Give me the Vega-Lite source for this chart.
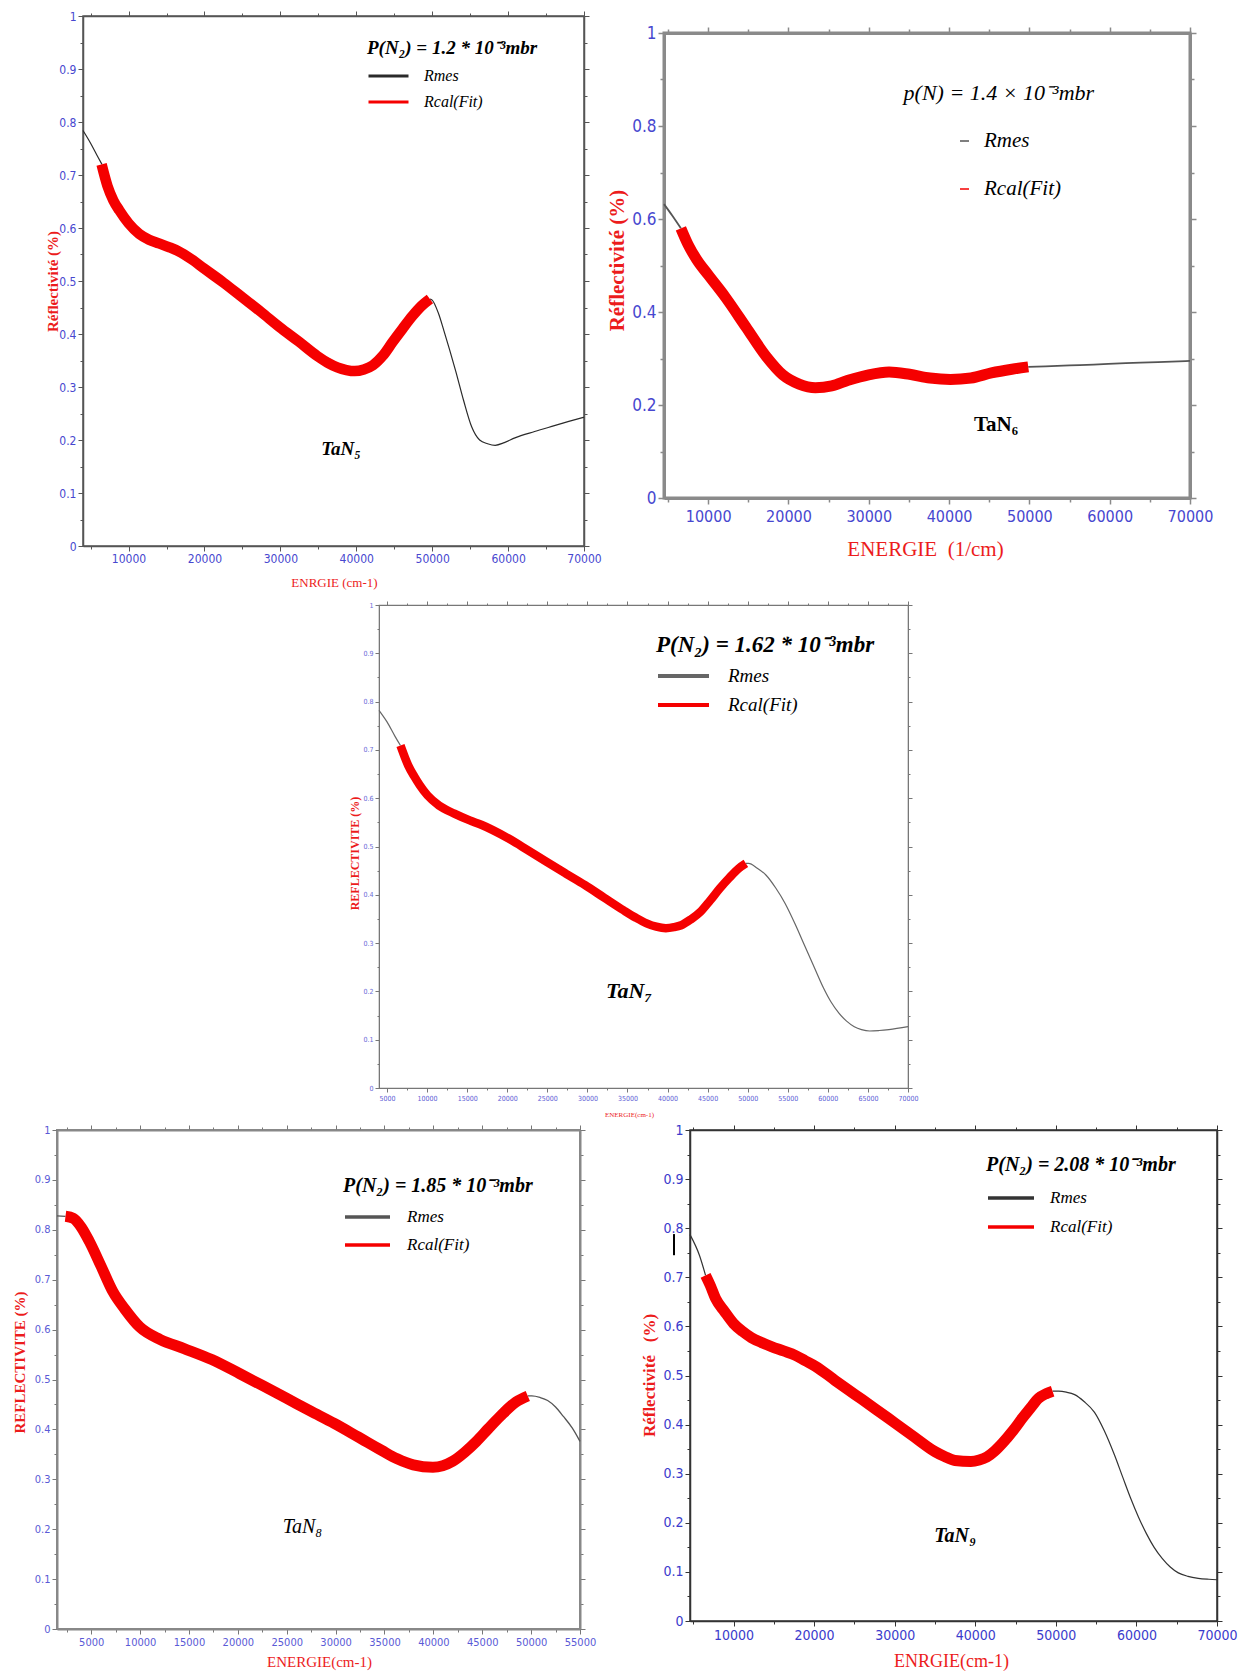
{
  "$schema": "https://vega.github.io/schema/vega-lite/v6.json",
  "background": "white",
  "padding": {"left": 11, "top": 9, "right": 0, "bottom": 0},
  "config": {
    "view": {"stroke": null},
    "axis": {
      "grid": false,
      "labelFont": "'Liberation Sans Narrow', 'Arial Narrow', 'DejaVu Sans Condensed', 'Liberation Sans', sans-serif",
      "labelColor": "#4747cf",
      "tickColor": "#555555",
      "domainColor": "#555555",
      "labelOverlap": false,
      "labelFlush": false,
      "titleColor": "#ec1c1c",
      "titleFont": "Liberation Serif",
      "titleAlign": "center",
      "titleBaseline": "middle",
      "labelPadding": 2,
      "tickWidth": 1
    },
    "legend": {
      "padding": 0,
      "orient": "none",
      "titleColor": "black",
      "labelColor": "black",
      "titleFont": "Liberation Serif",
      "labelFont": "Liberation Serif",
      "labelFontStyle": "italic",
      "titleFontStyle": "italic",
      "titleLimit": 600,
      "labelLimit": 400,
      "symbolType": "stroke",
      "titleAnchor": "start"
    },
    "text": {"font": "Liberation Serif", "color": "black"},
    "line": {"interpolate": "monotone"}
  },
  "bounds": "flush",
  "spacing": 557,
  "resolve": {"scale": {"color": "independent"}, "legend": {"color": "independent"}},
  "vconcat": [
    {
      "bounds": "flush",
      "spacing": 25,
      "resolve": {"scale": {"color": "independent"}, "legend": {"color": "independent"}},
      "hconcat": [
        {"width": 1, "height": 1, "view": {"stroke": null}, "data": {"values": []}, "mark": "point"},
        {
          "bounds": "flush",
          "spacing": 80,
          "resolve": {"scale": {"color": "independent"}, "legend": {"color": "independent"}},
          "hconcat": [
            {
              "width": 501,
              "height": 530,
              "view": {"stroke": "#555555", "strokeWidth": 1.5},
              "resolve": {"axis": {"x": "independent", "y": "independent"}},
              "layer": [
                {
                  "data": {"values": [
                    {"E": 4000, "R": 0.784, "series": "Rmes", "seg": "a"},
                    {"E": 5000, "R": 0.76, "series": "Rmes", "seg": "a"},
                    {"E": 6000, "R": 0.733, "series": "Rmes", "seg": "a"},
                    {"E": 6500, "R": 0.72, "series": "Rmes", "seg": "a"},
                    {"E": 49700, "R": 0.466, "series": "Rmes", "seg": "b"},
                    {"E": 50000, "R": 0.464, "series": "Rmes", "seg": "b"},
                    {"E": 50800, "R": 0.44, "series": "Rmes", "seg": "b"},
                    {"E": 51550, "R": 0.406, "series": "Rmes", "seg": "b"},
                    {"E": 52300, "R": 0.37, "series": "Rmes", "seg": "b"},
                    {"E": 53100, "R": 0.33, "series": "Rmes", "seg": "b"},
                    {"E": 54150, "R": 0.274, "series": "Rmes", "seg": "b"},
                    {"E": 55200, "R": 0.225, "series": "Rmes", "seg": "b"},
                    {"E": 56250, "R": 0.2, "series": "Rmes", "seg": "b"},
                    {"E": 57300, "R": 0.193, "series": "Rmes", "seg": "b"},
                    {"E": 58300, "R": 0.19, "series": "Rmes", "seg": "b"},
                    {"E": 59500, "R": 0.195, "series": "Rmes", "seg": "b"},
                    {"E": 60900, "R": 0.204, "series": "Rmes", "seg": "b"},
                    {"E": 63500, "R": 0.216, "series": "Rmes", "seg": "b"},
                    {"E": 66100, "R": 0.227, "series": "Rmes", "seg": "b"},
                    {"E": 68000, "R": 0.235, "series": "Rmes", "seg": "b"},
                    {"E": 70000, "R": 0.243, "series": "Rmes", "seg": "b"}
                  ]},
                  "mark": {"type": "line", "strokeWidth": 1.2},
                  "encoding": {
                    "x": {"field": "E", "type": "quantitative", "scale": {"domain": [4000, 70000], "nice": false, "zero": false},
                      "axis": {"orient": "bottom", "values": [5000,10000,15000,20000,25000,30000,35000,40000,45000,50000,55000,60000,65000,70000], "format": "d",
                        "labelExpr": "round(datum.value/5000) % 2 == 0 ? datum.label : ''",
                        "tickSize": {"condition": {"test": "round(datum.value/5000) % 2 == 0", "value": 5}, "value": 3},
                        "labelFontSize": 12, "domainWidth": 1.5,
                        "title": "ENRGIE (cm-1)", "titleX": 251, "titleY": 36, "titleFontSize": 13, "titleFontWeight": "normal", "titleAngle": 0}},
                    "y": {"field": "R", "type": "quantitative", "scale": {"domain": [0, 1], "nice": false},
                      "axis": {"orient": "left", "values": [0,0.05,0.1,0.15,0.2,0.25,0.3,0.35,0.4,0.45,0.5,0.55,0.6,0.65,0.7,0.75,0.8,0.85,0.9,0.95,1], "format": "~g",
                        "labelExpr": "round(datum.value*20) % 2 == 0 ? datum.label : ''",
                        "tickSize": {"condition": {"test": "round(datum.value*20) % 2 == 0", "value": 5}, "value": 3},
                        "labelFontSize": 12, "domainWidth": 1.5,
                        "title": "Réflectivité (%)", "titleX": -31, "titleY": 265, "titleFontSize": 15, "titleFontWeight": "bold", "titleAngle": 270}},
                    "color": {"field": "series", "type": "nominal",
                      "scale": {"domain": ["Rmes", "Rcal(Fit)"], "range": ["#2a2a2a", "#f50000"]},
                      "legend": {"title": "P(N₂) = 1.2 * 10⁻³mbr", "orient": "none", "legendX": 284, "legendY": 23,
                        "titleFontSize": 19, "titleFontWeight": "bold", "titlePadding": 9,
                        "symbolSize": 1600, "symbolStrokeWidth": 3, "labelFontSize": 16, "labelOffset": 14,
                        "clipHeight": 18, "rowPadding": 8}},
                    "detail": {"field": "seg", "type": "nominal"}
                  }
                },
                {
                  "data": {"values": [
                    {"E": 6450, "R": 0.72, "series": "Rcal(Fit)"},
                    {"E": 7230, "R": 0.679, "series": "Rcal(Fit)"},
                    {"E": 8000, "R": 0.652, "series": "Rcal(Fit)"},
                    {"E": 8800, "R": 0.633, "series": "Rcal(Fit)"},
                    {"E": 10000, "R": 0.609, "series": "Rcal(Fit)"},
                    {"E": 11400, "R": 0.589, "series": "Rcal(Fit)"},
                    {"E": 12700, "R": 0.578, "series": "Rcal(Fit)"},
                    {"E": 14000, "R": 0.571, "series": "Rcal(Fit)"},
                    {"E": 15300, "R": 0.564, "series": "Rcal(Fit)"},
                    {"E": 16600, "R": 0.556, "series": "Rcal(Fit)"},
                    {"E": 18300, "R": 0.541, "series": "Rcal(Fit)"},
                    {"E": 20000, "R": 0.523, "series": "Rcal(Fit)"},
                    {"E": 22500, "R": 0.497, "series": "Rcal(Fit)"},
                    {"E": 25000, "R": 0.469, "series": "Rcal(Fit)"},
                    {"E": 27500, "R": 0.441, "series": "Rcal(Fit)"},
                    {"E": 29900, "R": 0.413, "series": "Rcal(Fit)"},
                    {"E": 32400, "R": 0.386, "series": "Rcal(Fit)"},
                    {"E": 34900, "R": 0.358, "series": "Rcal(Fit)"},
                    {"E": 36200, "R": 0.346, "series": "Rcal(Fit)"},
                    {"E": 37500, "R": 0.337, "series": "Rcal(Fit)"},
                    {"E": 38700, "R": 0.332, "series": "Rcal(Fit)"},
                    {"E": 39800, "R": 0.33, "series": "Rcal(Fit)"},
                    {"E": 41000, "R": 0.333, "series": "Rcal(Fit)"},
                    {"E": 42200, "R": 0.341, "series": "Rcal(Fit)"},
                    {"E": 43500, "R": 0.359, "series": "Rcal(Fit)"},
                    {"E": 44800, "R": 0.385, "series": "Rcal(Fit)"},
                    {"E": 46100, "R": 0.41, "series": "Rcal(Fit)"},
                    {"E": 47400, "R": 0.434, "series": "Rcal(Fit)"},
                    {"E": 48600, "R": 0.453, "series": "Rcal(Fit)"},
                    {"E": 49700, "R": 0.466, "series": "Rcal(Fit)"}
                  ]},
                  "mark": {"type": "line", "strokeWidth": 10.5},
                  "encoding": {
                    "x": {"field": "E", "type": "quantitative", "scale": {"domain": [4000, 70000], "nice": false, "zero": false},
                      "axis": {"orient": "top", "values": [5000,10000,15000,20000,25000,30000,35000,40000,45000,50000,55000,60000,65000,70000], "labels": false, "title": null, "domainWidth": 1.5,
                        "tickSize": {"condition": {"test": "round(datum.value/5000) % 2 == 0", "value": 5}, "value": 3}}},
                    "y": {"field": "R", "type": "quantitative", "scale": {"domain": [0, 1], "nice": false},
                      "axis": {"orient": "right", "values": [0,0.05,0.1,0.15,0.2,0.25,0.3,0.35,0.4,0.45,0.5,0.55,0.6,0.65,0.7,0.75,0.8,0.85,0.9,0.95,1], "labels": false, "title": null, "domainWidth": 1.5,
                        "tickSize": {"condition": {"test": "round(datum.value*20) % 2 == 0", "value": 5}, "value": 3}}},
                    "color": {"field": "series", "type": "nominal"}
                  }
                },
                {
                  "data": {"values": [{}]},
                  "mark": {"type": "text", "text": "TaN₅", "fontSize": 19, "fontStyle": "italic", "fontWeight": "bold"},
                  "encoding": {
                    "x": {"datum": 37990, "type": "quantitative", "scale": {"domain": [4000, 70000], "nice": false, "zero": false}, "axis": null},
                    "y": {"datum": 0.183, "type": "quantitative", "scale": {"domain": [0, 1], "nice": false}, "axis": null}
                  }
                }
              ]
            },
            {
              "bounds": "flush",
              "spacing": 16,
              "resolve": {"scale": {"color": "independent"}, "legend": {"color": "independent"}},
              "vconcat": [
                {"width": 1, "height": 1, "view": {"stroke": null}, "data": {"values": []}, "mark": "point"},
                {
                  "width": 526,
                  "height": 465,
                  "view": {"stroke": "#8a8a8a", "strokeWidth": 3},
                  "resolve": {"axis": {"x": "independent", "y": "independent"}},
                  "layer": [
                    {
                      "data": {"values": [
                        {"E": 4500, "R": 0.632, "series": "Rmes", "seg": "a"},
                        {"E": 5500, "R": 0.608, "series": "Rmes", "seg": "a"},
                        {"E": 6600, "R": 0.58, "series": "Rmes", "seg": "a"},
                        {"E": 49860, "R": 0.282, "series": "Rmes", "seg": "b"},
                        {"E": 52000, "R": 0.283, "series": "Rmes", "seg": "b"},
                        {"E": 55000, "R": 0.285, "series": "Rmes", "seg": "b"},
                        {"E": 58000, "R": 0.287, "series": "Rmes", "seg": "b"},
                        {"E": 62000, "R": 0.29, "series": "Rmes", "seg": "b"},
                        {"E": 66000, "R": 0.292, "series": "Rmes", "seg": "b"},
                        {"E": 70000, "R": 0.295, "series": "Rmes", "seg": "b"}
                      ]},
                      "mark": {"type": "line", "strokeWidth": 1.8},
                      "encoding": {
                        "x": {"field": "E", "type": "quantitative", "scale": {"domain": [4500, 70000], "nice": false, "zero": false},
                          "axis": {"orient": "bottom", "values": [5000,10000,15000,20000,25000,30000,35000,40000,45000,50000,55000,60000,65000,70000], "format": "d",
                            "labelExpr": "round(datum.value/5000) % 2 == 0 ? datum.label : ''",
                            "tickSize": {"condition": {"test": "round(datum.value/5000) % 2 == 0", "value": 6}, "value": 4},
                            "labelFontSize": 16, "labelPadding": 4, "domainWidth": 3, "domainColor": "#8a8a8a", "tickColor": "#8a8a8a", "tickWidth": 1.5,
                            "title": "ENERGIE\u00a0\u00a0(1/cm)", "titleX": 261, "titleY": 51, "titleFontSize": 21, "titleFontWeight": "normal", "titleAngle": 0}},
                        "y": {"field": "R", "type": "quantitative", "scale": {"domain": [0, 1], "nice": false},
                          "axis": {"orient": "left", "values": [0,0.1,0.2,0.3,0.4,0.5,0.6,0.7,0.8,0.9,1], "format": "~g",
                            "labelExpr": "round(datum.value*10) % 2 == 0 ? datum.label : ''",
                            "tickSize": {"condition": {"test": "round(datum.value*10) % 2 == 0", "value": 6}, "value": 4},
                            "labelFontSize": 17, "domainWidth": 3, "domainColor": "#8a8a8a", "tickColor": "#8a8a8a", "tickWidth": 1.5,
                            "title": "Réflectivité (%)", "titleX": -47, "titleY": 227, "titleFontSize": 21, "titleFontWeight": "bold", "titleAngle": 270}},
                        "color": {"field": "series", "type": "nominal",
                          "scale": {"domain": ["Rmes", "Rcal(Fit)"], "range": ["#555555", "#f50000"]},
                          "legend": {"title": null, "orient": "none", "legendX": 290, "legendY": 99,
                            "symbolSize": 81, "symbolStrokeWidth": 1.5, "labelFontSize": 21, "labelOffset": 9,
                            "clipHeight": 18, "rowPadding": 27}},
                        "detail": {"field": "seg", "type": "nominal"}
                      }
                    },
                    {
                      "data": {"values": [
                        {"E": 6600, "R": 0.58, "series": "Rcal(Fit)"},
                        {"E": 7500, "R": 0.545, "series": "Rcal(Fit)"},
                        {"E": 8570, "R": 0.513, "series": "Rcal(Fit)"},
                        {"E": 10000, "R": 0.48, "series": "Rcal(Fit)"},
                        {"E": 12140, "R": 0.432, "series": "Rcal(Fit)"},
                        {"E": 14690, "R": 0.368, "series": "Rcal(Fit)"},
                        {"E": 17240, "R": 0.304, "series": "Rcal(Fit)"},
                        {"E": 19280, "R": 0.265, "series": "Rcal(Fit)"},
                        {"E": 21320, "R": 0.245, "series": "Rcal(Fit)"},
                        {"E": 23350, "R": 0.237, "series": "Rcal(Fit)"},
                        {"E": 25390, "R": 0.241, "series": "Rcal(Fit)"},
                        {"E": 27430, "R": 0.253, "series": "Rcal(Fit)"},
                        {"E": 29980, "R": 0.265, "series": "Rcal(Fit)"},
                        {"E": 32530, "R": 0.271, "series": "Rcal(Fit)"},
                        {"E": 35080, "R": 0.266, "series": "Rcal(Fit)"},
                        {"E": 37620, "R": 0.258, "series": "Rcal(Fit)"},
                        {"E": 40170, "R": 0.255, "series": "Rcal(Fit)"},
                        {"E": 42720, "R": 0.258, "series": "Rcal(Fit)"},
                        {"E": 45270, "R": 0.269, "series": "Rcal(Fit)"},
                        {"E": 47820, "R": 0.277, "series": "Rcal(Fit)"},
                        {"E": 49860, "R": 0.282, "series": "Rcal(Fit)"}
                      ]},
                      "mark": {"type": "line", "strokeWidth": 11},
                      "encoding": {
                        "x": {"field": "E", "type": "quantitative", "scale": {"domain": [4500, 70000], "nice": false, "zero": false},
                          "axis": {"orient": "top", "values": [5000,10000,15000,20000,25000,30000,35000,40000,45000,50000,55000,60000,65000,70000], "labels": false, "title": null,
                            "domainWidth": 3, "domainColor": "#8a8a8a", "tickColor": "#8a8a8a", "tickWidth": 1.5,
                            "tickSize": {"condition": {"test": "round(datum.value/5000) % 2 == 0", "value": 6}, "value": 4}}},
                        "y": {"field": "R", "type": "quantitative", "scale": {"domain": [0, 1], "nice": false},
                          "axis": {"orient": "right", "values": [0,0.1,0.2,0.3,0.4,0.5,0.6,0.7,0.8,0.9,1], "labels": false, "title": null,
                            "domainWidth": 3, "domainColor": "#8a8a8a", "tickColor": "#8a8a8a", "tickWidth": 1.5,
                            "tickSize": {"condition": {"test": "round(datum.value*10) % 2 == 0", "value": 6}, "value": 4}}},
                        "color": {"field": "series", "type": "nominal"}
                      }
                    },
                    {
                      "data": {"values": [{}]},
                      "mark": {"type": "text", "text": "p(N) = 1.4 × 10⁻³mbr", "fontSize": 22, "fontStyle": "italic"},
                      "encoding": {
                        "x": {"datum": 46200, "type": "quantitative", "scale": {"domain": [4500, 70000], "nice": false, "zero": false}, "axis": null},
                        "y": {"datum": 0.871, "type": "quantitative", "scale": {"domain": [0, 1], "nice": false}, "axis": null}
                      }
                    },
                    {
                      "data": {"values": [{}]},
                      "mark": {"type": "text", "text": "TaN₆", "fontSize": 21, "fontWeight": "bold"},
                      "encoding": {
                        "x": {"datum": 45840, "type": "quantitative", "scale": {"domain": [4500, 70000], "nice": false, "zero": false}, "axis": null},
                        "y": {"datum": 0.157, "type": "quantitative", "scale": {"domain": [0, 1], "nice": false}, "axis": null}
                      }
                    }
                  ]
                }
              ]
            }
          ]
        }
      ]
    },
    {
      "bounds": "flush",
      "spacing": 321,
      "resolve": {"scale": {"color": "independent"}, "legend": {"color": "independent"}},
      "hconcat": [
        {"width": 1, "height": 1, "view": {"stroke": null}, "data": {"values": []}, "mark": "point"},
        {
          "bounds": "flush",
          "spacing": 31,
          "resolve": {"scale": {"color": "independent"}, "legend": {"color": "independent"}},
          "vconcat": [
            {"width": 1, "height": 1, "view": {"stroke": null}, "data": {"values": []}, "mark": "point"},
            {
              "width": 529,
              "height": 483,
              "view": {"stroke": "#777777", "strokeWidth": 1.2},
              "resolve": {"axis": {"x": "independent", "y": "independent"}},
              "layer": [
                {
                  "data": {"values": [
                    {"E": 4000, "R": 0.782, "series": "Rmes", "seg": "a"},
                    {"E": 5000, "R": 0.758, "series": "Rmes", "seg": "a"},
                    {"E": 6000, "R": 0.728, "series": "Rmes", "seg": "a"},
                    {"E": 6680, "R": 0.709, "series": "Rmes", "seg": "a"},
                    {"E": 49770, "R": 0.465, "series": "Rmes", "seg": "b"},
                    {"E": 50110, "R": 0.465, "series": "Rmes", "seg": "b"},
                    {"E": 51200, "R": 0.455, "series": "Rmes", "seg": "b"},
                    {"E": 52270, "R": 0.441, "series": "Rmes", "seg": "b"},
                    {"E": 53500, "R": 0.414, "series": "Rmes", "seg": "b"},
                    {"E": 54670, "R": 0.382, "series": "Rmes", "seg": "b"},
                    {"E": 55900, "R": 0.34, "series": "Rmes", "seg": "b"},
                    {"E": 57070, "R": 0.296, "series": "Rmes", "seg": "b"},
                    {"E": 58300, "R": 0.25, "series": "Rmes", "seg": "b"},
                    {"E": 59460, "R": 0.207, "series": "Rmes", "seg": "b"},
                    {"E": 60400, "R": 0.178, "series": "Rmes", "seg": "b"},
                    {"E": 61380, "R": 0.155, "series": "Rmes", "seg": "b"},
                    {"E": 62300, "R": 0.139, "series": "Rmes", "seg": "b"},
                    {"E": 63300, "R": 0.127, "series": "Rmes", "seg": "b"},
                    {"E": 64200, "R": 0.121, "series": "Rmes", "seg": "b"},
                    {"E": 65220, "R": 0.118, "series": "Rmes", "seg": "b"},
                    {"E": 66400, "R": 0.119, "series": "Rmes", "seg": "b"},
                    {"E": 67620, "R": 0.121, "series": "Rmes", "seg": "b"},
                    {"E": 70000, "R": 0.127, "series": "Rmes", "seg": "b"}
                  ]},
                  "mark": {"type": "line", "strokeWidth": 1.2},
                  "encoding": {
                    "x": {"field": "E", "type": "quantitative", "scale": {"domain": [4000, 70000], "nice": false, "zero": false},
                      "axis": {"orient": "bottom", "values": [5000,7500,10000,12500,15000,17500,20000,22500,25000,27500,30000,32500,35000,37500,40000,42500,45000,47500,50000,52500,55000,57500,60000,62500,65000,67500,70000], "format": "d",
                        "labelExpr": "round(datum.value/2500) % 2 == 0 ? datum.label : ''",
                        "tickSize": {"condition": {"test": "round(datum.value/2500) % 2 == 0", "value": 4}, "value": 2},
                        "labelFontSize": 7, "labelColor": "#5d5dd6", "domainColor": "#777777", "tickColor": "#777777",
                        "title": "ENERGIE(cm-1)", "titleX": 250, "titleY": 26, "titleFontSize": 7, "titleFontWeight": "normal", "titleAngle": 0}},
                    "y": {"field": "R", "type": "quantitative", "scale": {"domain": [0, 1], "nice": false},
                      "axis": {"orient": "left", "values": [0,0.05,0.1,0.15,0.2,0.25,0.3,0.35,0.4,0.45,0.5,0.55,0.6,0.65,0.7,0.75,0.8,0.85,0.9,0.95,1], "format": "~g",
                        "labelExpr": "round(datum.value*20) % 2 == 0 ? datum.label : ''",
                        "tickSize": {"condition": {"test": "round(datum.value*20) % 2 == 0", "value": 4}, "value": 2},
                        "labelFontSize": 7, "labelColor": "#6a6ad8", "domainColor": "#777777", "tickColor": "#777777",
                        "title": "REFLECTIVITE (%)", "titleX": -25, "titleY": 248, "titleFontSize": 12, "titleFontWeight": "bold", "titleAngle": 270}},
                    "color": {"field": "series", "type": "nominal",
                      "scale": {"domain": ["Rmes", "Rcal(Fit)"], "range": ["#666666", "#f50000"]},
                      "legend": {"title": "P(N₂) = 1.62 * 10⁻³mbr", "orient": "none", "legendX": 277, "legendY": 29,
                        "titleFontSize": 23, "titleFontWeight": "bold", "titlePadding": 9,
                        "symbolSize": 2601, "symbolStrokeWidth": 4, "labelFontSize": 19, "labelOffset": 17,
                        "clipHeight": 20, "rowPadding": 9}},
                    "detail": {"field": "seg", "type": "nominal"}
                  }
                },
                {
                  "data": {"values": [
                    {"E": 6680, "R": 0.709, "series": "Rcal(Fit)"},
                    {"E": 7640, "R": 0.668, "series": "Rcal(Fit)"},
                    {"E": 8400, "R": 0.645, "series": "Rcal(Fit)"},
                    {"E": 9080, "R": 0.627, "series": "Rcal(Fit)"},
                    {"E": 10040, "R": 0.606, "series": "Rcal(Fit)"},
                    {"E": 11480, "R": 0.585, "series": "Rcal(Fit)"},
                    {"E": 13400, "R": 0.568, "series": "Rcal(Fit)"},
                    {"E": 15320, "R": 0.554, "series": "Rcal(Fit)"},
                    {"E": 16760, "R": 0.545, "series": "Rcal(Fit)"},
                    {"E": 18200, "R": 0.534, "series": "Rcal(Fit)"},
                    {"E": 20120, "R": 0.517, "series": "Rcal(Fit)"},
                    {"E": 22500, "R": 0.493, "series": "Rcal(Fit)"},
                    {"E": 24920, "R": 0.468, "series": "Rcal(Fit)"},
                    {"E": 27300, "R": 0.444, "series": "Rcal(Fit)"},
                    {"E": 29710, "R": 0.42, "series": "Rcal(Fit)"},
                    {"E": 32100, "R": 0.394, "series": "Rcal(Fit)"},
                    {"E": 34510, "R": 0.368, "series": "Rcal(Fit)"},
                    {"E": 36000, "R": 0.353, "series": "Rcal(Fit)"},
                    {"E": 37390, "R": 0.341, "series": "Rcal(Fit)"},
                    {"E": 38600, "R": 0.334, "series": "Rcal(Fit)"},
                    {"E": 39790, "R": 0.331, "series": "Rcal(Fit)"},
                    {"E": 40800, "R": 0.333, "series": "Rcal(Fit)"},
                    {"E": 41710, "R": 0.337, "series": "Rcal(Fit)"},
                    {"E": 42900, "R": 0.349, "series": "Rcal(Fit)"},
                    {"E": 44110, "R": 0.365, "series": "Rcal(Fit)"},
                    {"E": 45300, "R": 0.388, "series": "Rcal(Fit)"},
                    {"E": 46510, "R": 0.413, "series": "Rcal(Fit)"},
                    {"E": 47700, "R": 0.435, "series": "Rcal(Fit)"},
                    {"E": 48910, "R": 0.455, "series": "Rcal(Fit)"},
                    {"E": 49770, "R": 0.465, "series": "Rcal(Fit)"}
                  ]},
                  "mark": {"type": "line", "strokeWidth": 8.5},
                  "encoding": {
                    "x": {"field": "E", "type": "quantitative", "scale": {"domain": [4000, 70000], "nice": false, "zero": false},
                      "axis": {"orient": "top", "values": [5000,7500,10000,12500,15000,17500,20000,22500,25000,27500,30000,32500,35000,37500,40000,42500,45000,47500,50000,52500,55000,57500,60000,62500,65000,67500,70000], "labels": false, "title": null,
                        "domainColor": "#777777", "tickColor": "#777777",
                        "tickSize": {"condition": {"test": "round(datum.value/2500) % 2 == 0", "value": 4}, "value": 2}}},
                    "y": {"field": "R", "type": "quantitative", "scale": {"domain": [0, 1], "nice": false},
                      "axis": {"orient": "right", "values": [0,0.05,0.1,0.15,0.2,0.25,0.3,0.35,0.4,0.45,0.5,0.55,0.6,0.65,0.7,0.75,0.8,0.85,0.9,0.95,1], "labels": false, "title": null,
                        "domainColor": "#777777", "tickColor": "#777777",
                        "tickSize": {"condition": {"test": "round(datum.value*20) % 2 == 0", "value": 4}, "value": 2}}},
                    "color": {"field": "series", "type": "nominal"}
                  }
                },
                {
                  "data": {"values": [{}]},
                  "mark": {"type": "text", "text": "TaN₇", "fontSize": 22, "fontStyle": "italic", "fontWeight": "bold"},
                  "encoding": {
                    "x": {"datum": 35190, "type": "quantitative", "scale": {"domain": [4000, 70000], "nice": false, "zero": false}, "axis": null},
                    "y": {"datum": 0.201, "type": "quantitative", "scale": {"domain": [0, 1], "nice": false}, "axis": null}
                  }
                }
              ]
            }
          ]
        }
      ]
    },
    {
      "bounds": "flush",
      "spacing": 110,
      "resolve": {"scale": {"color": "independent"}, "legend": {"color": "independent"}},
      "hconcat": [
        {
          "width": 523,
          "height": 499,
          "view": {"stroke": "#888888", "strokeWidth": 2},
          "resolve": {"axis": {"x": "independent", "y": "independent"}},
          "layer": [
            {
              "data": {"values": [
                {"E": 1500, "R": 0.828, "series": "Rmes", "seg": "a"},
                {"E": 2370, "R": 0.827, "series": "Rmes", "seg": "a"},
                {"E": 49660, "R": 0.467, "series": "Rmes", "seg": "b"},
                {"E": 50070, "R": 0.467, "series": "Rmes", "seg": "b"},
                {"E": 50900, "R": 0.464, "series": "Rmes", "seg": "b"},
                {"E": 51690, "R": 0.458, "series": "Rmes", "seg": "b"},
                {"E": 52500, "R": 0.445, "series": "Rmes", "seg": "b"},
                {"E": 53300, "R": 0.426, "series": "Rmes", "seg": "b"},
                {"E": 54200, "R": 0.403, "series": "Rmes", "seg": "b"},
                {"E": 55000, "R": 0.376, "series": "Rmes", "seg": "b"}
              ]},
              "mark": {"type": "line", "strokeWidth": 1.3},
              "encoding": {
                "x": {"field": "E", "type": "quantitative", "scale": {"domain": [1500, 55000], "nice": false, "zero": false},
                  "axis": {"orient": "bottom", "values": [2500,5000,7500,10000,12500,15000,17500,20000,22500,25000,27500,30000,32500,35000,37500,40000,42500,45000,47500,50000,52500,55000], "format": "d",
                    "labelExpr": "round(datum.value/2500) % 2 == 0 ? datum.label : ''",
                    "tickSize": {"condition": {"test": "round(datum.value/2500) % 2 == 0", "value": 5}, "value": 3},
                    "labelFontSize": 11, "labelColor": "#5a5ad6", "domainWidth": 2, "domainColor": "#888888", "tickColor": "#777777",
                    "title": "ENERGIE(cm-1)", "titleX": 262, "titleY": 32, "titleFontSize": 15, "titleFontWeight": "normal", "titleAngle": 0}},
                "y": {"field": "R", "type": "quantitative", "scale": {"domain": [0, 1], "nice": false},
                  "axis": {"orient": "left", "values": [0,0.05,0.1,0.15,0.2,0.25,0.3,0.35,0.4,0.45,0.5,0.55,0.6,0.65,0.7,0.75,0.8,0.85,0.9,0.95,1], "format": "~g",
                    "labelExpr": "round(datum.value*20) % 2 == 0 ? datum.label : ''",
                    "tickSize": {"condition": {"test": "round(datum.value*20) % 2 == 0", "value": 5}, "value": 3},
                    "labelFontSize": 11, "labelColor": "#5a5ad6", "domainWidth": 2, "domainColor": "#888888", "tickColor": "#777777",
                    "title": "REFLECTIVITE (%)", "titleX": -38, "titleY": 232, "titleFontSize": 15, "titleFontWeight": "bold", "titleAngle": 270}},
                "color": {"field": "series", "type": "nominal",
                  "scale": {"domain": ["Rmes", "Rcal(Fit)"], "range": ["#555555", "#f50000"]},
                  "legend": {"title": "P(N₂) = 1.85 * 10⁻³mbr", "orient": "none", "legendX": 286, "legendY": 46,
                    "titleFontSize": 20, "titleFontWeight": "bold", "titlePadding": 12,
                    "symbolSize": 2025, "symbolStrokeWidth": 3.5, "labelFontSize": 17, "labelOffset": 15,
                    "clipHeight": 18, "rowPadding": 10}},
                "detail": {"field": "seg", "type": "nominal"}
              }
            },
            {
              "data": {"values": [
                {"E": 2370, "R": 0.827, "series": "Rcal(Fit)"},
                {"E": 3180, "R": 0.823, "series": "Rcal(Fit)"},
                {"E": 3990, "R": 0.805, "series": "Rcal(Fit)"},
                {"E": 4800, "R": 0.777, "series": "Rcal(Fit)"},
                {"E": 6010, "R": 0.727, "series": "Rcal(Fit)"},
                {"E": 7220, "R": 0.676, "series": "Rcal(Fit)"},
                {"E": 8440, "R": 0.641, "series": "Rcal(Fit)"},
                {"E": 9970, "R": 0.605, "series": "Rcal(Fit)"},
                {"E": 12070, "R": 0.58, "series": "Rcal(Fit)"},
                {"E": 14500, "R": 0.562, "series": "Rcal(Fit)"},
                {"E": 17330, "R": 0.54, "series": "Rcal(Fit)"},
                {"E": 20160, "R": 0.512, "series": "Rcal(Fit)"},
                {"E": 22600, "R": 0.487, "series": "Rcal(Fit)"},
                {"E": 25010, "R": 0.462, "series": "Rcal(Fit)"},
                {"E": 27400, "R": 0.437, "series": "Rcal(Fit)"},
                {"E": 29860, "R": 0.412, "series": "Rcal(Fit)"},
                {"E": 32300, "R": 0.385, "series": "Rcal(Fit)"},
                {"E": 34710, "R": 0.358, "series": "Rcal(Fit)"},
                {"E": 36300, "R": 0.341, "series": "Rcal(Fit)"},
                {"E": 37940, "R": 0.329, "series": "Rcal(Fit)"},
                {"E": 39960, "R": 0.324, "series": "Rcal(Fit)"},
                {"E": 41980, "R": 0.336, "series": "Rcal(Fit)"},
                {"E": 43200, "R": 0.354, "series": "Rcal(Fit)"},
                {"E": 44410, "R": 0.376, "series": "Rcal(Fit)"},
                {"E": 45600, "R": 0.401, "series": "Rcal(Fit)"},
                {"E": 46830, "R": 0.426, "series": "Rcal(Fit)"},
                {"E": 48450, "R": 0.455, "series": "Rcal(Fit)"},
                {"E": 49660, "R": 0.467, "series": "Rcal(Fit)"}
              ]},
              "mark": {"type": "line", "strokeWidth": 11},
              "encoding": {
                "x": {"field": "E", "type": "quantitative", "scale": {"domain": [1500, 55000], "nice": false, "zero": false},
                  "axis": {"orient": "top", "values": [2500,5000,7500,10000,12500,15000,17500,20000,22500,25000,27500,30000,32500,35000,37500,40000,42500,45000,47500,50000,52500,55000], "labels": false, "title": null,
                    "domainWidth": 2, "domainColor": "#888888", "tickColor": "#777777",
                    "tickSize": {"condition": {"test": "round(datum.value/2500) % 2 == 0", "value": 5}, "value": 3}}},
                "y": {"field": "R", "type": "quantitative", "scale": {"domain": [0, 1], "nice": false},
                  "axis": {"orient": "right", "values": [0,0.05,0.1,0.15,0.2,0.25,0.3,0.35,0.4,0.45,0.5,0.55,0.6,0.65,0.7,0.75,0.8,0.85,0.9,0.95,1], "labels": false, "title": null,
                    "domainWidth": 2, "domainColor": "#888888", "tickColor": "#777777",
                    "tickSize": {"condition": {"test": "round(datum.value*20) % 2 == 0", "value": 5}, "value": 3}}},
                "color": {"field": "series", "type": "nominal"}
              }
            },
            {
              "data": {"values": [{}]},
              "mark": {"type": "text", "text": "TaN₈", "fontSize": 20, "fontStyle": "italic"},
              "encoding": {
                "x": {"datum": 26615, "type": "quantitative", "scale": {"domain": [1500, 55000], "nice": false, "zero": false}, "axis": null},
                "y": {"datum": 0.204, "type": "quantitative", "scale": {"domain": [0, 1], "nice": false}, "axis": null}
              }
            }
          ]
        },
        {
          "width": 527,
          "height": 491,
          "view": {"stroke": "#333333", "strokeWidth": 1.5},
          "resolve": {"axis": {"x": "independent", "y": "independent"}},
          "layer": [
            {
              "data": {"values": [
                {"E": 4600, "R": 0.787, "series": "Rmes", "seg": "a"},
                {"E": 5790, "R": 0.744, "series": "Rmes", "seg": "a"},
                {"E": 6530, "R": 0.704, "series": "Rmes", "seg": "a"},
                {"E": 49600, "R": 0.468, "series": "Rmes", "seg": "b"},
                {"E": 50350, "R": 0.468, "series": "Rmes", "seg": "b"},
                {"E": 51300, "R": 0.466, "series": "Rmes", "seg": "b"},
                {"E": 52330, "R": 0.461, "series": "Rmes", "seg": "b"},
                {"E": 53500, "R": 0.447, "series": "Rmes", "seg": "b"},
                {"E": 54800, "R": 0.425, "series": "Rmes", "seg": "b"},
                {"E": 56000, "R": 0.388, "series": "Rmes", "seg": "b"},
                {"E": 57280, "R": 0.338, "series": "Rmes", "seg": "b"},
                {"E": 58300, "R": 0.293, "series": "Rmes", "seg": "b"},
                {"E": 59260, "R": 0.251, "series": "Rmes", "seg": "b"},
                {"E": 60250, "R": 0.212, "series": "Rmes", "seg": "b"},
                {"E": 61240, "R": 0.178, "series": "Rmes", "seg": "b"},
                {"E": 62200, "R": 0.15, "series": "Rmes", "seg": "b"},
                {"E": 63220, "R": 0.127, "series": "Rmes", "seg": "b"},
                {"E": 64200, "R": 0.11, "series": "Rmes", "seg": "b"},
                {"E": 65200, "R": 0.098, "series": "Rmes", "seg": "b"},
                {"E": 66400, "R": 0.091, "series": "Rmes", "seg": "b"},
                {"E": 67670, "R": 0.087, "series": "Rmes", "seg": "b"},
                {"E": 69000, "R": 0.085, "series": "Rmes", "seg": "b"},
                {"E": 70000, "R": 0.084, "series": "Rmes", "seg": "b"}
              ]},
              "mark": {"type": "line", "strokeWidth": 1.2},
              "encoding": {
                "x": {"field": "E", "type": "quantitative", "scale": {"domain": [4600, 70000], "nice": false, "zero": false},
                  "axis": {"orient": "bottom", "values": [5000,10000,15000,20000,25000,30000,35000,40000,45000,50000,55000,60000,65000,70000], "format": "d",
                    "labelExpr": "round(datum.value/5000) % 2 == 0 ? datum.label : ''",
                    "tickSize": {"condition": {"test": "round(datum.value/5000) % 2 == 0", "value": 5}, "value": 3},
                    "labelFontSize": 14, "labelColor": "#3b3bcc", "domainWidth": 1.5, "domainColor": "#333333", "tickColor": "#333333",
                    "title": "ENRGIE(cm-1)", "titleX": 261, "titleY": 40, "titleFontSize": 18, "titleFontWeight": "normal", "titleAngle": 0}},
                "y": {"field": "R", "type": "quantitative", "scale": {"domain": [0, 1], "nice": false},
                  "axis": {"orient": "left", "values": [0,0.05,0.1,0.15,0.2,0.25,0.3,0.35,0.4,0.45,0.5,0.55,0.6,0.65,0.7,0.75,0.8,0.85,0.9,0.95,1], "format": "~g",
                    "labelExpr": "round(datum.value*20) % 2 == 0 ? datum.label : ''",
                    "tickSize": {"condition": {"test": "round(datum.value*20) % 2 == 0", "value": 5}, "value": 3},
                    "labelFontSize": 14, "labelColor": "#3b3bcc", "domainWidth": 1.5, "domainColor": "#333333", "tickColor": "#333333",
                    "title": "Réflectivité\u00a0\u00a0\u00a0(%)", "titleX": -41, "titleY": 245, "titleFontSize": 17, "titleFontWeight": "bold", "titleAngle": 270}},
                "color": {"field": "series", "type": "nominal",
                  "scale": {"domain": ["Rmes", "Rcal(Fit)"], "range": ["#333333", "#f50000"]},
                  "legend": {"title": "P(N₂) = 2.08 * 10⁻³mbr", "orient": "none", "legendX": 296, "legendY": 25,
                    "titleFontSize": 20, "titleFontWeight": "bold", "titlePadding": 14,
                    "symbolSize": 2116, "symbolStrokeWidth": 3.5, "labelFontSize": 17, "labelOffset": 14,
                    "clipHeight": 18, "rowPadding": 11}},
                "detail": {"field": "seg", "type": "nominal"}
              }
            },
            {
              "data": {"values": [
                {"E": 6530, "R": 0.704, "series": "Rcal(Fit)"},
                {"E": 7100, "R": 0.684, "series": "Rcal(Fit)"},
                {"E": 7770, "R": 0.657, "series": "Rcal(Fit)"},
                {"E": 8900, "R": 0.63, "series": "Rcal(Fit)"},
                {"E": 10000, "R": 0.606, "series": "Rcal(Fit)"},
                {"E": 11100, "R": 0.59, "series": "Rcal(Fit)"},
                {"E": 12230, "R": 0.577, "series": "Rcal(Fit)"},
                {"E": 13500, "R": 0.567, "series": "Rcal(Fit)"},
                {"E": 14700, "R": 0.559, "series": "Rcal(Fit)"},
                {"E": 16200, "R": 0.55, "series": "Rcal(Fit)"},
                {"E": 17670, "R": 0.541, "series": "Rcal(Fit)"},
                {"E": 18900, "R": 0.53, "series": "Rcal(Fit)"},
                {"E": 20150, "R": 0.519, "series": "Rcal(Fit)"},
                {"E": 22600, "R": 0.49, "series": "Rcal(Fit)"},
                {"E": 25100, "R": 0.461, "series": "Rcal(Fit)"},
                {"E": 27600, "R": 0.432, "series": "Rcal(Fit)"},
                {"E": 30050, "R": 0.403, "series": "Rcal(Fit)"},
                {"E": 32500, "R": 0.374, "series": "Rcal(Fit)"},
                {"E": 35000, "R": 0.345, "series": "Rcal(Fit)"},
                {"E": 36200, "R": 0.335, "series": "Rcal(Fit)"},
                {"E": 37480, "R": 0.327, "series": "Rcal(Fit)"},
                {"E": 39460, "R": 0.325, "series": "Rcal(Fit)"},
                {"E": 40500, "R": 0.328, "series": "Rcal(Fit)"},
                {"E": 41440, "R": 0.334, "series": "Rcal(Fit)"},
                {"E": 42400, "R": 0.346, "series": "Rcal(Fit)"},
                {"E": 43420, "R": 0.363, "series": "Rcal(Fit)"},
                {"E": 44700, "R": 0.388, "series": "Rcal(Fit)"},
                {"E": 45890, "R": 0.414, "series": "Rcal(Fit)"},
                {"E": 46900, "R": 0.435, "series": "Rcal(Fit)"},
                {"E": 47870, "R": 0.454, "series": "Rcal(Fit)"},
                {"E": 48800, "R": 0.463, "series": "Rcal(Fit)"},
                {"E": 49600, "R": 0.468, "series": "Rcal(Fit)"}
              ]},
              "mark": {"type": "line", "strokeWidth": 11},
              "encoding": {
                "x": {"field": "E", "type": "quantitative", "scale": {"domain": [4600, 70000], "nice": false, "zero": false},
                  "axis": {"orient": "top", "values": [5000,10000,15000,20000,25000,30000,35000,40000,45000,50000,55000,60000,65000,70000], "labels": false, "title": null,
                    "domainWidth": 1.5, "domainColor": "#333333", "tickColor": "#333333",
                    "tickSize": {"condition": {"test": "round(datum.value/5000) % 2 == 0", "value": 5}, "value": 3}}},
                "y": {"field": "R", "type": "quantitative", "scale": {"domain": [0, 1], "nice": false},
                  "axis": {"orient": "right", "values": [0,0.05,0.1,0.15,0.2,0.25,0.3,0.35,0.4,0.45,0.5,0.55,0.6,0.65,0.7,0.75,0.8,0.85,0.9,0.95,1], "labels": false, "title": null,
                    "domainWidth": 1.5, "domainColor": "#333333", "tickColor": "#333333",
                    "tickSize": {"condition": {"test": "round(datum.value*20) % 2 == 0", "value": 5}, "value": 3}}},
                "color": {"field": "series", "type": "nominal"}
              }
            },
            {
              "data": {"values": [{}]},
              "mark": {"type": "rule", "color": "black", "strokeWidth": 2},
              "encoding": {
                "x": {"datum": 2614, "type": "quantitative", "scale": {"domain": [4600, 70000], "nice": false, "zero": false}, "axis": null},
                "y": {"datum": 0.788, "type": "quantitative", "scale": {"domain": [0, 1], "nice": false}, "axis": null},
                "y2": {"datum": 0.745}
              }
            },
            {
              "data": {"values": [{}]},
              "mark": {"type": "text", "text": "TaN₉", "fontSize": 20, "fontStyle": "italic", "fontWeight": "bold"},
              "encoding": {
                "x": {"datum": 37490, "type": "quantitative", "scale": {"domain": [4600, 70000], "nice": false, "zero": false}, "axis": null},
                "y": {"datum": 0.173, "type": "quantitative", "scale": {"domain": [0, 1], "nice": false}, "axis": null}
              }
            }
          ]
        }
      ]
    }
  ]
}
